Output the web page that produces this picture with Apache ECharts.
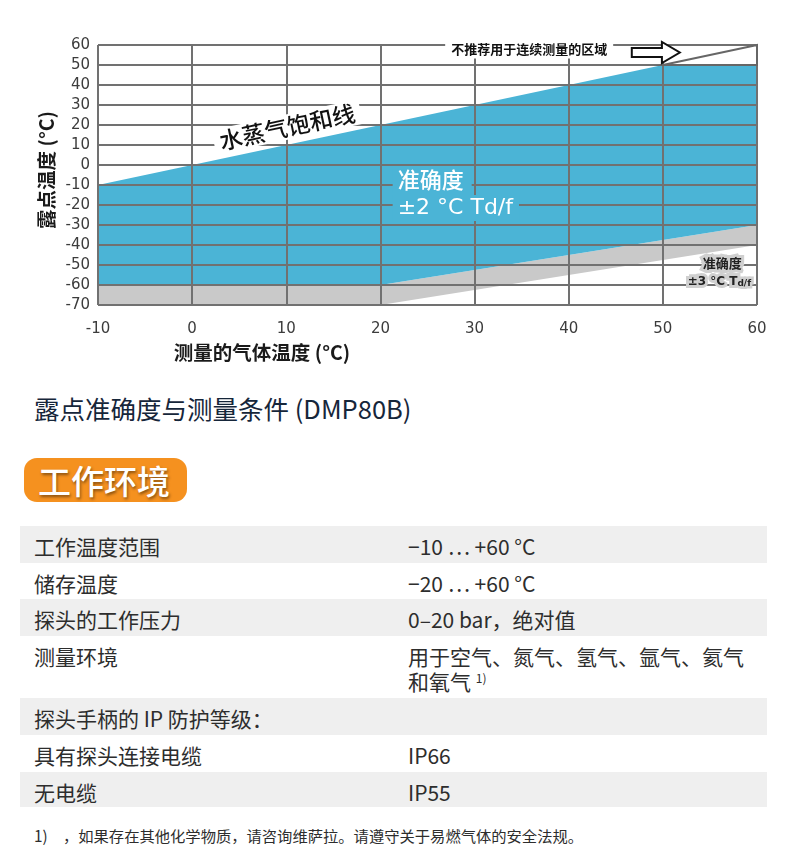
<!DOCTYPE html>
<html>
<head>
<meta charset="utf-8">
<script src="https://cdn.jsdelivr.net/npm/echarts@6/dist/echarts.min.js"></script>
<style>
  html, body { margin:0; padding:0; background:#fff; }
  body { width:790px; height:854px; position:relative; overflow:hidden;
         font-family:"Noto Sans CJK SC","Noto Sans",sans-serif; }
  #chart { position:absolute; left:0; top:0; width:790px; height:380px; }
  .title { position:absolute; left:34px; top:392px; font-size:25.5px; line-height:32px; color:#16263a; white-space:nowrap; }
  .badge { position:absolute; left:24px; top:458px; width:163px; height:44px; border-radius:13px; background:#f5911f; }
  .badge span { position:absolute; left:14px; top:1px; font-size:33px; line-height:42px; color:#fff; font-weight:500;
                text-shadow:1px 2px 3px rgba(0,0,0,0.45); white-space:nowrap; }
  #table { position:absolute; left:20px; top:526px; width:747px; }
  .row { position:relative; box-sizing:border-box; padding-top:9px; font-size:21px; line-height:22px; color:#2d2d2d; }
  .row .k { position:absolute; left:14px; white-space:nowrap; }
  .row .v { position:absolute; left:388px; white-space:nowrap; }
  .row sup { font-size:12px; vertical-align:7px; }
  .foot { position:absolute; left:34px; top:825px; font-size:15.3px; line-height:20px; color:#2d2d2d; white-space:nowrap; }
</style>
</head>
<body>
<div id="chart"></div>
<div class="title" id="title"></div>
<div class="badge"><span id="badge"></span></div>
<div id="table"></div>
<div class="foot" id="foot"></div>
<script>
// ---- Axis definitions ----
const xMin = -10, xMax = 60, xInterval = 10;
const yMin = -70, yMax = 60, yInterval = 10;

// ---- Region vertices (measured gas temperature °C, dew point °C) ----
const blueRegion = [[-10,-10],[50,50],[60,50],[60,-30],[20,-60],[-10,-60]];   // ±2 °C Td/f
const grayRegion = [[-10,-60],[20,-60],[60,-30],[60,-40],[20,-70],[-10,-70]]; // ±3 °C Td/f
const notRecommended = [[50,50],[60,60],[60,50]];
const arrowShape = [[46.7,58.5],[49.9,58.5],[49.9,61.5],[51.8,56.25],[49.9,51],[49.9,54],[46.7,54]];

// ---- Texts ----
const xAxisName = '测量的气体温度 (°C)';
const yAxisName = '露点温度 (°C)';
const satLabel = '水蒸气饱和线';
const acc2Lines = ['准确度', '±2 °C Td/f'];
const acc3Lines = ['准确度', '±3 °C T{s|d/f}'];
const notRecLabel = '不推荐用于连续测量的区域';

const pageTitle = '露点准确度与测量条件 (DMP80B)';
const sectionTitle = '工作环境';
const tableLabels = ['工作温度范围','储存温度','探头的工作压力','测量环境','探头手柄的 IP 防护等级：','具有探头连接电缆','无电缆'];
const tableValues = ['−10 … +60 °C','−20 … +60 °C','0–20 bar，绝对值','用于空气、氮气、氢气、氩气、氦气<br>和氧气 <sup>1)</sup>','','IP66','IP55'];
const footnote = '1)　，如果存在其他化学物质，请咨询维萨拉。请遵守关于易燃气体的安全法规。';

const BLUE = '#4bb4d6', GRAY = '#c9c9c9', GRID = '#717171';
const latin = '"DejaVu Sans","Noto Sans CJK SC",sans-serif';
const cjk = '"Noto Sans CJK SC","DejaVu Sans",sans-serif';

function polygonSeries(pts, style, z) {
  return {
    type:'custom', coordinateSystem:'cartesian2d', z:z, silent:true, clip:false,
    data:[pts[0]],
    renderItem:function(params, api){
      return {type:'polygon', shape:{points: pts.map(p => api.coord(p))}, style: style};
    }
  };
}

const chart = echarts.init(document.getElementById('chart'), null, {renderer:'canvas'});
const option = {
  animation:false,
  grid:{left:98, top:45, width:659, height:260, containLabel:false},
  xAxis:{
    type:'value', min:xMin, max:xMax, interval:xInterval, z:5,
    axisLine:{show:false},
    axisTick:{show:true, length:5, lineStyle:{color:GRID, width:2}},
    axisLabel:{margin:17, fontSize:15, color:'#3c3c3c', fontFamily:latin},
    splitLine:{show:true, lineStyle:{color:GRID, width:2}}
  },
  yAxis:{
    type:'value', min:yMin, max:yMax, interval:yInterval, z:5,
    axisLine:{show:false}, axisTick:{show:false},
    axisLabel:{margin:8, fontSize:15, color:'#3c3c3c', fontFamily:latin},
    splitLine:{show:true, lineStyle:{color:GRID, width:2}}
  },
  series:[
    polygonSeries(grayRegion, {fill:GRAY}, 1),
    polygonSeries(blueRegion, {fill:BLUE}, 1),
    polygonSeries(notRecommended, {fill:'rgba(255,255,255,0)', stroke:'#666', lineWidth:2}, 8),
    polygonSeries(arrowShape, {fill:'#fff', stroke:'#111', lineWidth:2, lineJoin:'miter'}, 9)
  ]
};
chart.setOption(option);

const P = (x, y) => chart.convertToPixel({gridIndex:0}, [x, y]);
const a = P(-10,-10), b = P(50,50);
const satAngle = Math.atan2(a[1]-b[1], b[0]-a[0]);
const satPos = P(10.1, 19);
const acc2a = P(21.3, -7.5), acc2b = P(21.3, -21.5);
const acc3a = P(56.3, -49), acc3b = P(56.0, -58.5);
const nrPos = P(35.8, 58);

chart.setOption({
  graphic:[
    {type:'text', z:100, x:47, y:170, rotation:Math.PI/2,
     style:{text:yAxisName, font:'bold 19.5px '+cjk, fill:'#1a1a1a', align:'center', verticalAlign:'middle'}},
    {type:'text', z:100, x:262, y:353,
     style:{text:xAxisName, font:'bold 19.5px '+cjk, fill:'#1a1a1a', align:'center', verticalAlign:'middle'}},
    {type:'text', z:100, x:satPos[0], y:satPos[1], rotation:satAngle,
     style:{text:satLabel, font:'500 23px '+cjk, fill:'#111', align:'center', verticalAlign:'middle',
            backgroundColor:'#fff', padding:[1,6,1,6]}},
    {type:'text', z:100, x:acc2a[0], y:acc2a[1],
     style:{text:acc2Lines[0], font:'500 22px '+cjk, fill:'#fff', align:'left', verticalAlign:'middle',
            backgroundColor:BLUE, padding:[2,8,2,5]}},
    {type:'text', z:100, x:acc2b[0], y:acc2b[1],
     style:{text:acc2Lines[1], font:'500 22px '+latin, fill:'#fff', align:'left', verticalAlign:'middle',
            backgroundColor:BLUE, padding:[2,6,2,5]}},
    {type:'text', z:100, x:acc3a[0], y:acc3a[1],
     style:{text:acc3Lines[0], font:'bold 13px '+cjk, fill:'#222', align:'center', verticalAlign:'middle',
            stroke:'#d0d0d0', lineWidth:6}},
    {type:'text', z:100, x:acc3b[0], y:acc3b[1],
     style:{text:acc3Lines[1], font:'bold 12px '+latin, fill:'#222', align:'center', verticalAlign:'middle',
            stroke:'#d0d0d0', lineWidth:6,
            rich:{s:{font:'bold 9px '+latin, fill:'#222', stroke:'#d0d0d0', lineWidth:5, verticalAlign:'bottom'}}}},
    {type:'text', z:100, x:nrPos[0], y:nrPos[1],
     style:{text:notRecLabel, font:'bold 13px '+cjk, fill:'#111', align:'center', verticalAlign:'middle',
            backgroundColor:'#fff', padding:[3,6,3,6]}}
  ]
});

// ---- Lower part ----
document.getElementById('title').textContent = pageTitle;
document.getElementById('badge').textContent = sectionTitle;
document.getElementById('foot').textContent = footnote;
const rowHeights = [37,36,37,62,37,37,35];
const rowShade = [true,false,true,false,true,false,true];
const tbl = document.getElementById('table');
tableLabels.forEach((k, i) => {
  const r = document.createElement('div');
  r.className = 'row';
  r.style.height = rowHeights[i] + 'px';
  r.style.background = rowShade[i] ? '#efefef' : '#fff';
  const ks = document.createElement('div'); ks.className = 'k'; ks.textContent = k;
  const vs = document.createElement('div'); vs.className = 'v'; vs.innerHTML = tableValues[i];
  r.appendChild(ks); r.appendChild(vs);
  tbl.appendChild(r);
});
</script>
</body>
</html>
